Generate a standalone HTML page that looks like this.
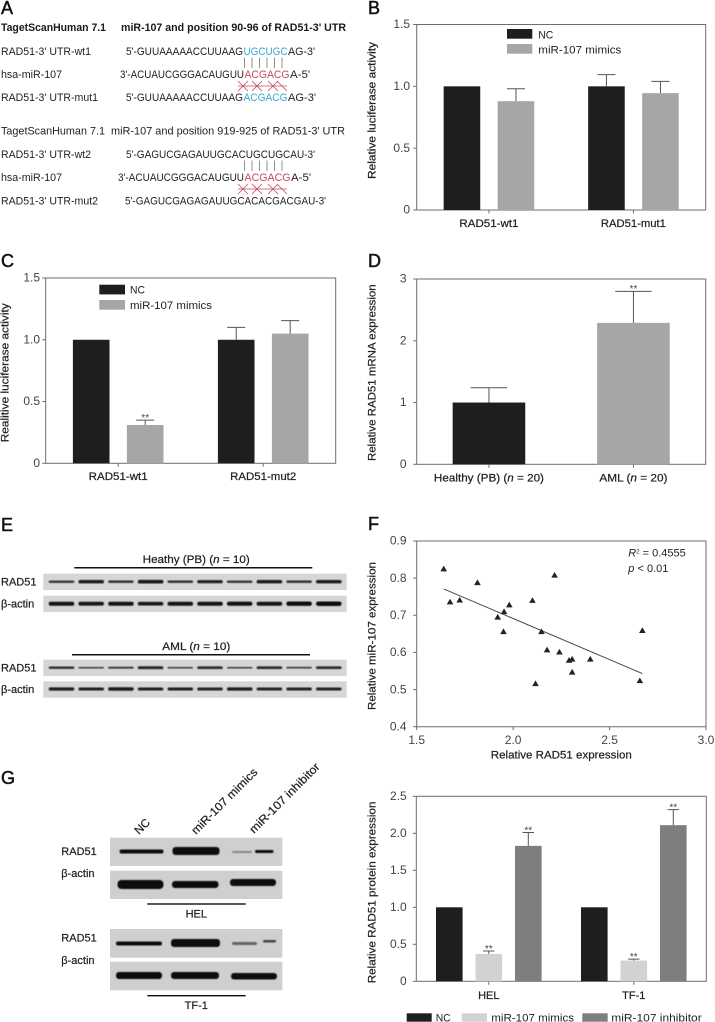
<!DOCTYPE html>
<html lang="en">
<head>
<meta charset="utf-8">
<title>miR-107 and RAD51 figure</title>
<style>
html,body{margin:0;padding:0;background:#fff;}
svg{display:block;font-family:"Liberation Sans",sans-serif;}
text{fill:#222;font-size:11px;}
.letter{font-size:18px;fill:#111;stroke:#111;stroke-width:.5px;}
.med{stroke:#222;stroke-width:.22px;}
.hdr{font-weight:bold;fill:#1a1a1a;}
.blue{fill:#38a9d0;}
.red{fill:#c8485f;}
</style>
</head>
<body>
<svg id="fig" width="715" height="1022" viewBox="0 0 715 1022" xmlns="http://www.w3.org/2000/svg">
<defs><filter id="soft" x="-10%" y="-60%" width="120%" height="220%"><feGaussianBlur stdDeviation="0.6"/></filter></defs>

<text class="letter" x="1" y="14">A</text>
<text class="letter" x="368" y="14">B</text>
<text class="letter" x="1" y="267">C</text>
<text class="letter" x="368" y="267">D</text>
<text class="letter" x="1" y="531">E</text>
<text class="letter" x="368" y="530">F</text>
<text class="letter" x="1" y="784">G</text>

<g>
<text class="hdr" x="1" y="31" textLength="105" lengthAdjust="spacingAndGlyphs">TagetScanHuman 7.1</text>
<text class="hdr" x="121" y="31" textLength="225" lengthAdjust="spacingAndGlyphs">miR-107 and position 90-96 of RAD51-3' UTR</text>
<text x="1" y="55" textLength="90" lengthAdjust="spacingAndGlyphs">RAD51-3' UTR-wt1</text>
<text x="126" y="55" textLength="117" lengthAdjust="spacingAndGlyphs">5'-GUUAAAAACCUUAAG</text>
<text class="blue" x="243.500" y="55" textLength="44" lengthAdjust="spacingAndGlyphs">UGCUGC</text>
<text x="288" y="55" textLength="27" lengthAdjust="spacingAndGlyphs">AG-3'</text>
<text x="1" y="78" textLength="61" lengthAdjust="spacingAndGlyphs">hsa-miR-107</text>
<text x="120" y="78" textLength="124" lengthAdjust="spacingAndGlyphs">3'-ACUAUCGGGACAUGUU</text>
<text class="red" x="244.500" y="78" textLength="45" lengthAdjust="spacingAndGlyphs">ACGACG</text>
<text x="290" y="78" textLength="20" lengthAdjust="spacingAndGlyphs">A-5'</text>
<text x="1" y="101" textLength="97" lengthAdjust="spacingAndGlyphs">RAD51-3' UTR-mut1</text>
<text x="126" y="101" textLength="117" lengthAdjust="spacingAndGlyphs">5'-GUUAAAAACCUUAAG</text>
<text class="blue" x="243.500" y="101" textLength="44" lengthAdjust="spacingAndGlyphs">ACGACG</text>
<text x="288" y="101" textLength="28" lengthAdjust="spacingAndGlyphs">AG-3'</text>

<text x="1" y="134.500" textLength="104" lengthAdjust="spacingAndGlyphs">TagetScanHuman 7.1</text>
<text x="111" y="134.500" textLength="234" lengthAdjust="spacingAndGlyphs">miR-107 and position 919-925 of RAD51-3' UTR</text>
<text x="1" y="158" textLength="90" lengthAdjust="spacingAndGlyphs">RAD51-3' UTR-wt2</text>
<text x="126" y="158" textLength="189" lengthAdjust="spacingAndGlyphs">5'-GAGUCGAGAUUGCACUGCUGCAU-3'</text>
<text x="1" y="181" textLength="61" lengthAdjust="spacingAndGlyphs">hsa-miR-107</text>
<text x="118" y="181" textLength="126" lengthAdjust="spacingAndGlyphs">3'-ACUAUCGGGACAUGUU</text>
<text class="red" x="244.500" y="181" textLength="46" lengthAdjust="spacingAndGlyphs">ACGACG</text>
<text x="291" y="181" textLength="20" lengthAdjust="spacingAndGlyphs">A-5'</text>
<text x="1" y="204.500" textLength="97" lengthAdjust="spacingAndGlyphs">RAD51-3' UTR-mut2</text>
<text x="125" y="204.500" textLength="201" lengthAdjust="spacingAndGlyphs">5'-GAGUCGAGAGAUUGCACACGACGAU-3'</text>

<path d="M244.500 57.500V68M252 57.500V68M259.500 57.500V68M267 57.500V68M274.500 57.500V68M282 57.500V68" stroke="#777" stroke-width=".8" fill="none"/>
<path d="M244.500 160.500V171M252 160.500V171M259.500 160.500V171M267 160.500V171M274.500 160.500V171M282 160.500V171" stroke="#777" stroke-width=".8" fill="none"/>
<path d="M238 86H287M238 81L248 91M248 81L238 91M252 81L262 91M262 81L252 91M268 81L278 91M278 81L268 91M277 81L287 91" stroke="#c8485f" stroke-width=".8" fill="none"/>
<path d="M238 189H287M238 184L248 194M248 184L238 194M252 184L262 194M262 184L252 194M268 184L278 194M278 184L268 194M277 184L287 194" stroke="#c8485f" stroke-width=".8" fill="none"/>
</g>

<g id="chart-b"></g>
<g id="chart-c"></g>
<g id="chart-d"></g>
<g id="chart-f"></g>
<g id="chart-g"></g>

<g id="blot-e">
<text class="med" x="142.700" y="563" textLength="107" lengthAdjust="spacingAndGlyphs">Heathy (PB) (<tspan font-style="italic">n</tspan> = 10)</text>
<rect x="74.300" y="567" width="238" height="1.500" fill="#111"/>
<text class="med" x="162.300" y="650" textLength="68" lengthAdjust="spacingAndGlyphs">AML (<tspan font-style="italic">n</tspan> = 10)</text>
<rect x="72" y="654" width="238" height="1.500" fill="#111"/>
<text class="med" x="1" y="585.500">RAD51</text>
<text class="med" x="1" y="607.500">β-actin</text>
<text class="med" x="1" y="671.500">RAD51</text>
<text class="med" x="1" y="693">β-actin</text>
</g>

<g id="blot-g">
<text class="med" transform="translate(139 835) rotate(-45)" style="font-size:11.5px">NC</text>
<text class="med" transform="translate(196 835) rotate(-45)" textLength="88" lengthAdjust="spacingAndGlyphs" style="font-size:11.5px">miR-107 mimics</text>
<text class="med" transform="translate(254 834) rotate(-45)" textLength="94" lengthAdjust="spacingAndGlyphs" style="font-size:11.5px">miR-107 inhibitor</text>

<rect x="110" y="837.700" width="172.300" height="28.300" fill="#cfcfcf"/>
<rect x="110" y="870.700" width="172.300" height="28.300" fill="#cfcfcf"/>
<rect x="110" y="929" width="172.300" height="28.700" fill="#cfcfcf"/>
<rect x="110" y="961.700" width="172.300" height="28.600" fill="#cfcfcf"/>
<g filter="url(#soft)" fill="#111">
<rect x="119.500" y="849.500" width="44" height="4" rx="2"/>
<rect x="172.500" y="847" width="47" height="8" rx="3"/>
<rect x="232" y="851" width="20" height="2" rx="1" fill="#888"/>
<rect x="255" y="850" width="18.500" height="3" rx="1.500"/>
<rect x="117.500" y="880" width="46" height="9" rx="4"/>
<rect x="172" y="881" width="46.500" height="7" rx="3"/>
<rect x="230" y="879" width="46" height="7" rx="3"/>
<rect x="116" y="941.500" width="46" height="4" rx="2"/>
<rect x="171" y="939" width="49" height="8" rx="3"/>
<rect x="232" y="942" width="25" height="3" rx="1.500" fill="#666"/>
<rect x="263" y="940" width="13" height="2.500" rx="1.200" fill="#444"/>
<rect x="116" y="972" width="46" height="7" rx="3"/>
<rect x="171" y="972" width="48" height="7" rx="3"/>
<rect x="231" y="973" width="46" height="6.500" rx="3"/>
</g>
<rect x="147.300" y="903.300" width="98.400" height="1.400" fill="#111"/>
<rect x="147.300" y="995" width="98.400" height="1.400" fill="#111"/>
<text class="med" x="196.300" y="917.700" text-anchor="middle">HEL</text>
<text class="med" x="196.300" y="1009" text-anchor="middle">TF-1</text>
<text class="med" x="61.300" y="855">RAD51</text>
<text class="med" x="61.300" y="877">β-actin</text>
<text class="med" x="61.300" y="941.700">RAD51</text>
<text class="med" x="61.300" y="964">β-actin</text>
</g>

<script>
// ---------- chart data ----------
var bCategories = ["RAD51-wt1", "RAD51-mut1"];
var bSeriesNames = ["NC", "miR-107 mimics"];
var bNC = [1.0, 1.0];
var bMimics = [0.88, 0.945];
var bNCErr = [1.0, 1.095];
var bMimicsErr = [0.98, 1.04];
var bTicks = ["0", "0.5", "1.0", "1.5"];

var cCategories = ["RAD51-wt1", "RAD51-mut2"];
var cNC = [1.0, 1.0];
var cMimics = [0.31, 1.05];
var cNCErr = [1.0, 1.10];
var cMimicsErr = [0.35, 1.155];
var cMarks = ["", "**", "", ""];
var cTicks = ["0", "0.5", "1.0", "1.5"];

var dCategories = ["Healthy (PB)", "AML"];
var dValues = [1.0, 2.29];
var dErr = [1.24, 2.8];
var dTicks = ["0", "1", "2", "3"];

var fX = [1.64, 1.815, 2.215, 1.673, 1.723, 2.10, 1.98, 1.953, 1.92, 1.95, 2.147, 2.67, 2.176, 2.24, 2.29, 2.306, 2.40, 2.306, 2.116, 2.657];
var fY = [0.825, 0.788, 0.808, 0.736, 0.741, 0.74, 0.728, 0.71, 0.695, 0.656, 0.656, 0.659, 0.607, 0.601, 0.579, 0.582, 0.582, 0.547, 0.516, 0.524];
var fLineX = [1.64, 2.67];
var fLineY = [0.771, 0.543];
var fXTicks = ["1.5", "2.0", "2.5", "3.0"];
var fYTicks = ["0.4", "0.5", "0.6", "0.7", "0.8", "0.9"];

var gCategories = ["HEL", "TF-1"];
var gSeriesNames = ["NC", "miR-107 mimics", "miR-107 inhibitor"];
var gNC = [1.0, 1.0];
var gMimics = [0.37, 0.28];
var gInhibitor = [1.83, 2.11];
var gNCErr = [1.0, 1.0];
var gMimicsErr = [0.41, 0.30];
var gInhibitorErr = [2.01, 2.32];
var gTicks = ["0", "0.5", "1.0", "1.5", "2.0", "2.5"];

// band density readings for blot panel E
var eHealthyRad51 = [0.35, 0.7, 0.4, 0.75, 0.4, 0.6, 0.35, 0.7, 0.4, 0.7];
var eHealthyActin = [0.85, 0.8, 0.85, 0.75, 0.85, 0.85, 0.9, 0.85, 0.95, 1.0];
var eAmlRad51 = [0.4, 0.15, 0.25, 0.55, 0.15, 0.45, 0.15, 0.45, 0.2, 0.45];
var eAmlActin = [0.65, 0.6, 0.7, 0.6, 0.6, 0.55, 0.65, 0.55, 0.55, 0.55];

// ---------- drawing ----------
var NS = "http://www.w3.org/2000/svg";
var BLACK = "#1e1e1e", GREY = "#a6a6a6", LIGHT = "#d2d2d2", DARK = "#7e7e7e", AXIS = "#6e6e6e";

function mk(parent, tag, attrs, txt) {
  var el = document.createElementNS(NS, tag);
  for (var k in attrs) el.setAttribute(k, attrs[k]);
  if (txt !== undefined) el.textContent = txt;
  parent.appendChild(el);
  return el;
}
function linear(d0, d1, r0, r1) {
  return function (v) { return r0 + (v - d0) / (d1 - d0) * (r1 - r0); };
}

function frame(g, L, R, T, B) {
  var el = mk(g, "rect", { x: L, y: T, width: R - L, height: B - T, fill: "none", stroke: AXIS, "stroke-width": 1 });
  
  
}
function yAxis(g, ticks, y, end, dy, axisX) {
  ticks.forEach(function (t) {
    var v = parseFloat(t), p = y(v);
    var tk = mk(g, "line", { x1: axisX - 3.500, x2: axisX, y1: p, y2: p, stroke: AXIS });
    
    
    var lb = mk(g, "text", { x: end, y: p + dy, "text-anchor": "end", style: "font-size:12px;fill:#444" }, t);
    
    
  });
}
function yTitle(g, text, x, yBottom, len) {
  var el = mk(g, "text", { transform: "translate(" + x + " " + yBottom + ") rotate(-90)", textLength: len, lengthAdjust: "spacingAndGlyphs", "class": "med" }, text);
  
  
}
function bar(g, cx, w, val, err, y, color, capW, star) {
  var rc = mk(g, "rect", { x: cx - w / 2, y: y(val), width: w, height: y(0) - y(val), fill: color });
  
  
  if (err > val) {
    var st = mk(g, "path", { d: "M" + cx + " " + y(val) + "V" + y(err) + "M" + (cx - capW / 2) + " " + y(err) + "H" + (cx + capW / 2), stroke: "#555", "stroke-width": 1, fill: "none" });
    
    
  }
  if (star) {
    var sg = mk(g, "text", { x: cx, y: y(err > val ? err : val) + 0.800, "text-anchor": "middle", style: "font-size:10px;fill:#444" }, star);
    
    
  }
}
function legendItem(g, sx, sy, sw, sh, color, tx, ty, len, label) {
  var s = mk(g, "rect", { x: sx, y: sy, width: sw, height: sh, fill: color });
  
  
  var t = mk(g, "text", { x: tx, y: ty, textLength: len, lengthAdjust: "spacingAndGlyphs" }, label);
  
  
}
function xGroups(g, L, R, B, cats, labelY) {
  var step = (R - L) / cats.length;
  return cats.map(function (c, i) {
    var cx = L + step * (i + 0.5);
    var tk = mk(g, "line", { x1: cx, x2: cx, y1: B, y2: B + 3.500, stroke: AXIS });
    
    
    return cx;
  });
}
function xLabel(g, cx, y, text, len) {
  var attrs = { x: len ? cx - len / 2 : cx, y: y, "class": "med" };
  if (len) { attrs.textLength = len; attrs.lengthAdjust = "spacingAndGlyphs"; }
  else { attrs["text-anchor"] = "middle"; }
  var el = mk(g, "text", attrs, text);
  
  
  return el;
}

// Chart B
(function () {
  var g = document.getElementById("chart-b"), L = 416.7, R = 705.7, T = 24.5, B = 210;
  var y = linear(0, 1.5, B, T);
  frame(g, L, R, T, B);
  yAxis(g, bTicks, y, 410, 3.700, L);
  yTitle(g, "Relative luciferase activity", 375.7, 179, 137);
  var cx = xGroups(g, L, R, B, bCategories);
  bCategories.forEach(function (c, i) {
    bar(g, cx[i] - 27, 36.6, bNC[i], bNCErr[i], y, BLACK, 18);
    bar(g, cx[i] + 27, 36.6, bMimics[i], bMimicsErr[i], y, GREY, 18);
    xLabel(g, cx[i], 227, c, i ? 65 : 59);
  });
  legendItem(g, 507, 29, 25.300, 9.700, BLACK, 538.3, 38.3, 15, bSeriesNames[0]);
  legendItem(g, 507, 44, 25.300, 9.700, GREY, 538.3, 53.5, 83, bSeriesNames[1]);
})();

// Chart C
(function () {
  var g = document.getElementById("chart-c"), L = 45.7, R = 335.7, T = 278, B = 463.3;
  var y = linear(0, 1.5, B, T);
  frame(g, L, R, T, B);
  yAxis(g, cTicks, y, 40, 3.700, L);
  yTitle(g, "Realitive luciferase activity", 8.3, 442.3, 139);
  var cx = xGroups(g, L, R, B, cCategories);
  cCategories.forEach(function (c, i) {
    bar(g, cx[i] - 27, 36.6, cNC[i], cNCErr[i], y, BLACK, 18, cMarks[i * 2]);
    bar(g, cx[i] + 27, 36.6, cMimics[i], cMimicsErr[i], y, GREY, 18, cMarks[i * 2 + 1]);
    xLabel(g, cx[i], 480, c, i ? 66 : 59);
  });
  legendItem(g, 99.3, 284.7, 25.700, 9.700, BLACK, 130, 293.5, 15, bSeriesNames[0]);
  legendItem(g, 99.3, 300, 25.700, 9.700, GREY, 130, 309, 82, bSeriesNames[1]);
})();

// Chart D
(function () {
  var g = document.getElementById("chart-d"), L = 416.7, R = 705.7, T = 279, B = 464.3;
  var y = linear(0, 3, B, T);
  frame(g, L, R, T, B);
  yAxis(g, dTicks, y, 406.5, 3.700, L);
  yTitle(g, "Relative RAD51 mRNA expression", 375.7, 461, 176.7);
  var cx = xGroups(g, L, R, B, dCategories);
  var colors = [BLACK, GREY];
  var stars = ["", "**"];
  var lens = [110, 68];
  dCategories.forEach(function (c, i) {
    bar(g, cx[i], 72.6, dValues[i], dErr[i], y, colors[i], 36.5, stars[i]);
    var t = xLabel(g, cx[i], 481.3, c + " (", lens[i]);
    var it = mk(t, "tspan", { "font-style": "italic" }, "n");
    t.appendChild(document.createTextNode(" = 20)"));
  });
})();

// Chart F
(function () {
  var g = document.getElementById("chart-f"), L = 416.7, R = 706, T = 541, B = 726.7;
  var x = linear(1.5, 3, L, R), y = linear(0.4, 0.9, B, T);
  var ax = mk(g, "path", { d: "M" + L + " " + T + "H" + R + "V" + B + "H" + L + "Z", fill: "none", stroke: AXIS });
  
  
  yAxis(g, fYTicks, y, 406.5, 3.700, L);
  fXTicks.forEach(function (t) {
    var p = x(parseFloat(t));
    var tk = mk(g, "line", { x1: p, x2: p, y1: B, y2: B + 3.500, stroke: AXIS });
    
    
    var lb = mk(g, "text", { x: p, y: 744, "text-anchor": "middle", style: "font-size:12px;fill:#444" }, t);
    
    
  });
  yTitle(g, "Relative miR-107 expression", 375.7, 710, 148);
  var xt = mk(g, "text", { x: 490.8, y: 758.7, textLength: 141, lengthAdjust: "spacingAndGlyphs", "class": "med" }, "Relative RAD51 expression");
  
  
  var ln = mk(g, "line", { x1: x(fLineX[0]), y1: y(fLineY[0]), x2: x(fLineX[1]), y2: y(fLineY[1]), stroke: "#444", "stroke-width": 1 });
  
  
  fX.forEach(function (v, i) {
    var px = x(v), py = y(fY[i]);
    var p = mk(g, "path", { d: "M" + px + " " + (py - 3.200) + "L" + (px + 3.300) + " " + (py + 2.500) + "H" + (px - 3.300) + "Z", fill: "#222" });
    
    
  });
  var r = mk(g, "text", { x: 628.3, y: 556.7 });
  
  
  mk(r, "tspan", { "font-style": "italic" }, "R");
  mk(r, "tspan", { dy: -3, style: "font-size:6px" }, "2");
  mk(r, "tspan", { dy: 3 }, " = 0.4555");
  var pv = mk(g, "text", { x: 628.3, y: 572 });
  
  
  mk(pv, "tspan", { "font-style": "italic" }, "p");
  mk(pv, "tspan", {}, " < 0.01");
})();

// Chart G
(function () {
  var g = document.getElementById("chart-g"), L = 416.3, R = 706.3, T = 796.3, B = 981.3;
  var y = linear(0, 2.5, B, T);
  frame(g, L, R, T, B);
  yAxis(g, gTicks, y, 406.7, 3.700, L);
  yTitle(g, "Relative RAD51 protein expression", 375.7, 983.3, 181.7);
  var cx = xGroups(g, L, R, B, gCategories);
  gCategories.forEach(function (c, i) {
    bar(g, cx[i] - 39.5, 26.6, gNC[i], gNCErr[i], y, BLACK, 11.3);
    bar(g, cx[i], 26.6, gMimics[i], gMimicsErr[i], y, LIGHT, 11.3, "**");
    bar(g, cx[i] + 39.5, 26.6, gInhibitor[i], gInhibitorErr[i], y, DARK, 11.3, "**");
    xLabel(g, cx[i], 999, c);
  });
  legendItem(g, 406.7, 1013.3, 25, 8.400, BLACK, 435.7, 1021.5, 15, gSeriesNames[0]);
  legendItem(g, 461.7, 1013.3, 25.300, 8.400, LIGHT, 491.3, 1021.5, 82.7, gSeriesNames[1]);
  legendItem(g, 582.3, 1013.3, 25.400, 8.400, DARK, 611.3, 1021.5, 90.4, gSeriesNames[2]);
})();

// Blot panel E
(function () {
  var g = document.getElementById("blot-e");
  var rows = [
    { top: 573.7, mid: 581.7, d: eHealthyRad51 },
    { top: 595.7, mid: 603.7, d: eHealthyActin },
    { top: 659.7, mid: 667.7, d: eAmlRad51 },
    { top: 681.3, mid: 689, d: eAmlActin }
  ];
  rows.forEach(function (r) {
    var s = mk(g, "rect", { x: 43.3, y: r.top, width: 303.4, height: 16.400, fill: "#d6d6d6" });
    
    
    r.d.forEach(function (v, i) {
      var h = 1 + v * 3.500;
      var b = mk(g, "rect", { x: 48.7 + i * 29.7, y: r.mid - h / 2, width: 25.6, height: h, rx: h / 2, fill: "#111", opacity: 0.75 + v * 0.25, filter: "url(#soft)" });
      
      
    });
  });
})();
</script>
</svg>
</body>
</html>
